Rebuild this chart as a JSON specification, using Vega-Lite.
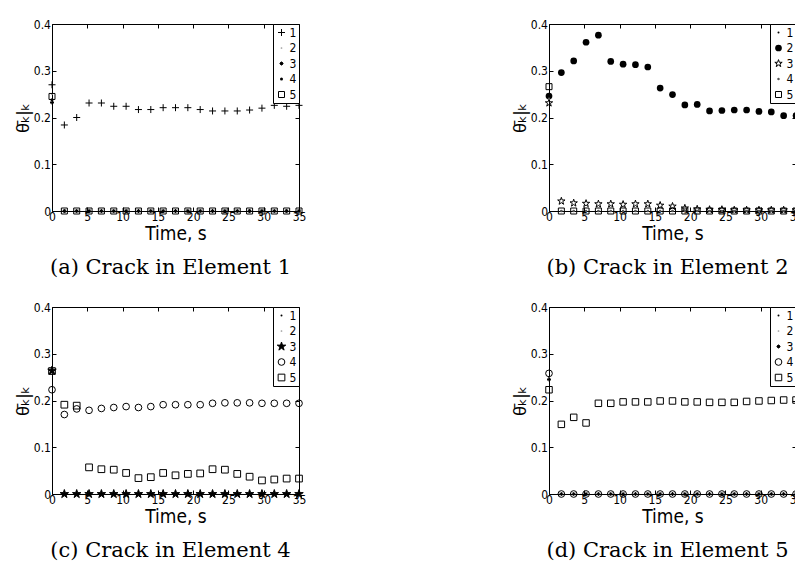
{
"$schema": "https://vega.github.io/schema/vega-lite/v6.json",
"background": "white",
"padding": {"left": 13, "top": 17, "right": 0, "bottom": 0},
"columns": 2,
"spacing": {"row": 96, "column": 250},
"bounds": "flush",
"resolve": {"scale": {"shape": "independent", "size": "independent", "fill": "independent", "stroke": "independent"}, "legend": {"shape": "independent", "size": "independent", "fill": "independent", "stroke": "independent"}},
"datasets": {
"a": [
{"t":0,"s":"1","v":0.27},{"t":1.75,"s":"1","v":0.184},{"t":3.5,"s":"1","v":0.2},{"t":5.25,"s":"1","v":0.231},{"t":7,"s":"1","v":0.231},{"t":8.75,"s":"1","v":0.224},{"t":10.5,"s":"1","v":0.224},{"t":12.25,"s":"1","v":0.217},{"t":14,"s":"1","v":0.217},{"t":15.75,"s":"1","v":0.221},{"t":17.5,"s":"1","v":0.221},{"t":19.25,"s":"1","v":0.221},{"t":21,"s":"1","v":0.217},{"t":22.75,"s":"1","v":0.214},{"t":24.5,"s":"1","v":0.214},{"t":26.25,"s":"1","v":0.214},{"t":28,"s":"1","v":0.216},{"t":29.75,"s":"1","v":0.22},{"t":31.5,"s":"1","v":0.226},{"t":33.25,"s":"1","v":0.224},{"t":35,"s":"1","v":0.226},
{"t":0,"s":"2","v":0.25},{"t":1.75,"s":"2","v":0},{"t":3.5,"s":"2","v":0},{"t":5.25,"s":"2","v":0},{"t":7,"s":"2","v":0},{"t":8.75,"s":"2","v":0},{"t":10.5,"s":"2","v":0},{"t":12.25,"s":"2","v":0},{"t":14,"s":"2","v":0},{"t":15.75,"s":"2","v":0},{"t":17.5,"s":"2","v":0},{"t":19.25,"s":"2","v":0},{"t":21,"s":"2","v":0},{"t":22.75,"s":"2","v":0},{"t":24.5,"s":"2","v":0},{"t":26.25,"s":"2","v":0},{"t":28,"s":"2","v":0},{"t":29.75,"s":"2","v":0},{"t":31.5,"s":"2","v":0},{"t":33.25,"s":"2","v":0},{"t":35,"s":"2","v":0},
{"t":0,"s":"3","v":0.232},{"t":1.75,"s":"3","v":0},{"t":3.5,"s":"3","v":0},{"t":5.25,"s":"3","v":0},{"t":7,"s":"3","v":0},{"t":8.75,"s":"3","v":0},{"t":10.5,"s":"3","v":0},{"t":12.25,"s":"3","v":0},{"t":14,"s":"3","v":0},{"t":15.75,"s":"3","v":0},{"t":17.5,"s":"3","v":0},{"t":19.25,"s":"3","v":0},{"t":21,"s":"3","v":0},{"t":22.75,"s":"3","v":0},{"t":24.5,"s":"3","v":0},{"t":26.25,"s":"3","v":0},{"t":28,"s":"3","v":0},{"t":29.75,"s":"3","v":0},{"t":31.5,"s":"3","v":0},{"t":33.25,"s":"3","v":0},{"t":35,"s":"3","v":0},
{"t":0,"s":"4","v":0.238},{"t":1.75,"s":"4","v":0},{"t":3.5,"s":"4","v":0},{"t":5.25,"s":"4","v":0},{"t":7,"s":"4","v":0},{"t":8.75,"s":"4","v":0},{"t":10.5,"s":"4","v":0},{"t":12.25,"s":"4","v":0},{"t":14,"s":"4","v":0},{"t":15.75,"s":"4","v":0},{"t":17.5,"s":"4","v":0},{"t":19.25,"s":"4","v":0},{"t":21,"s":"4","v":0},{"t":22.75,"s":"4","v":0},{"t":24.5,"s":"4","v":0},{"t":26.25,"s":"4","v":0},{"t":28,"s":"4","v":0},{"t":29.75,"s":"4","v":0},{"t":31.5,"s":"4","v":0},{"t":33.25,"s":"4","v":0},{"t":35,"s":"4","v":0},
{"t":0,"s":"5","v":0.245},{"t":1.75,"s":"5","v":0},{"t":3.5,"s":"5","v":0},{"t":5.25,"s":"5","v":0},{"t":7,"s":"5","v":0},{"t":8.75,"s":"5","v":0},{"t":10.5,"s":"5","v":0},{"t":12.25,"s":"5","v":0},{"t":14,"s":"5","v":0},{"t":15.75,"s":"5","v":0},{"t":17.5,"s":"5","v":0},{"t":19.25,"s":"5","v":0},{"t":21,"s":"5","v":0},{"t":22.75,"s":"5","v":0},{"t":24.5,"s":"5","v":0},{"t":26.25,"s":"5","v":0},{"t":28,"s":"5","v":0},{"t":29.75,"s":"5","v":0},{"t":31.5,"s":"5","v":0},{"t":33.25,"s":"5","v":0},{"t":35,"s":"5","v":0}
],
"b": [
{"t":0,"s":"1","v":0.25},{"t":1.75,"s":"1","v":0},{"t":3.5,"s":"1","v":0},{"t":5.25,"s":"1","v":0},{"t":7,"s":"1","v":0},{"t":8.75,"s":"1","v":0},{"t":10.5,"s":"1","v":0},{"t":12.25,"s":"1","v":0},{"t":14,"s":"1","v":0},{"t":15.75,"s":"1","v":0},{"t":17.5,"s":"1","v":0},{"t":19.25,"s":"1","v":0},{"t":21,"s":"1","v":0},{"t":22.75,"s":"1","v":0},{"t":24.5,"s":"1","v":0},{"t":26.25,"s":"1","v":0},{"t":28,"s":"1","v":0},{"t":29.75,"s":"1","v":0},{"t":31.5,"s":"1","v":0},{"t":33.25,"s":"1","v":0},{"t":35,"s":"1","v":0},
{"t":0,"s":"2","v":0.246},{"t":1.75,"s":"2","v":0.296},{"t":3.5,"s":"2","v":0.321},{"t":5.25,"s":"2","v":0.361},{"t":7,"s":"2","v":0.376},{"t":8.75,"s":"2","v":0.32},{"t":10.5,"s":"2","v":0.314},{"t":12.25,"s":"2","v":0.313},{"t":14,"s":"2","v":0.308},{"t":15.75,"s":"2","v":0.263},{"t":17.5,"s":"2","v":0.249},{"t":19.25,"s":"2","v":0.227},{"t":21,"s":"2","v":0.228},{"t":22.75,"s":"2","v":0.214},{"t":24.5,"s":"2","v":0.215},{"t":26.25,"s":"2","v":0.216},{"t":28,"s":"2","v":0.216},{"t":29.75,"s":"2","v":0.213},{"t":31.5,"s":"2","v":0.212},{"t":33.25,"s":"2","v":0.204},{"t":35,"s":"2","v":0.204},
{"t":0,"s":"3","v":0.231},{"t":1.75,"s":"3","v":0.021},{"t":3.5,"s":"3","v":0.017},{"t":5.25,"s":"3","v":0.016},{"t":7,"s":"3","v":0.015},{"t":8.75,"s":"3","v":0.015},{"t":10.5,"s":"3","v":0.014},{"t":12.25,"s":"3","v":0.015},{"t":14,"s":"3","v":0.015},{"t":15.75,"s":"3","v":0.012},{"t":17.5,"s":"3","v":0.01},{"t":19.25,"s":"3","v":0.006},{"t":21,"s":"3","v":0.004},{"t":22.75,"s":"3","v":0.003},{"t":24.5,"s":"3","v":0.003},{"t":26.25,"s":"3","v":0.002},{"t":28,"s":"3","v":0.002},{"t":29.75,"s":"3","v":0.002},{"t":31.5,"s":"3","v":0.002},{"t":33.25,"s":"3","v":0.002},{"t":35,"s":"3","v":0.002},
{"t":0,"s":"4","v":0.24},{"t":1.75,"s":"4","v":0},{"t":3.5,"s":"4","v":0},{"t":5.25,"s":"4","v":0},{"t":7,"s":"4","v":0},{"t":8.75,"s":"4","v":0},{"t":10.5,"s":"4","v":0},{"t":12.25,"s":"4","v":0},{"t":14,"s":"4","v":0},{"t":15.75,"s":"4","v":0},{"t":17.5,"s":"4","v":0},{"t":19.25,"s":"4","v":0},{"t":21,"s":"4","v":0},{"t":22.75,"s":"4","v":0},{"t":24.5,"s":"4","v":0},{"t":26.25,"s":"4","v":0},{"t":28,"s":"4","v":0},{"t":29.75,"s":"4","v":0},{"t":31.5,"s":"4","v":0},{"t":33.25,"s":"4","v":0},{"t":35,"s":"4","v":0},
{"t":0,"s":"5","v":0.266},{"t":1.75,"s":"5","v":0},{"t":3.5,"s":"5","v":0},{"t":5.25,"s":"5","v":0},{"t":7,"s":"5","v":0},{"t":8.75,"s":"5","v":0},{"t":10.5,"s":"5","v":0},{"t":12.25,"s":"5","v":0},{"t":14,"s":"5","v":0},{"t":15.75,"s":"5","v":0},{"t":17.5,"s":"5","v":0},{"t":19.25,"s":"5","v":0},{"t":21,"s":"5","v":0},{"t":22.75,"s":"5","v":0},{"t":24.5,"s":"5","v":0},{"t":26.25,"s":"5","v":0},{"t":28,"s":"5","v":0},{"t":29.75,"s":"5","v":0},{"t":31.5,"s":"5","v":0},{"t":33.25,"s":"5","v":0},{"t":35,"s":"5","v":0}
],
"c": [
{"t":0,"s":"1","v":0.26},{"t":1.75,"s":"1","v":0},{"t":3.5,"s":"1","v":0},{"t":5.25,"s":"1","v":0},{"t":7,"s":"1","v":0},{"t":8.75,"s":"1","v":0},{"t":10.5,"s":"1","v":0},{"t":12.25,"s":"1","v":0},{"t":14,"s":"1","v":0},{"t":15.75,"s":"1","v":0},{"t":17.5,"s":"1","v":0},{"t":19.25,"s":"1","v":0},{"t":21,"s":"1","v":0},{"t":22.75,"s":"1","v":0},{"t":24.5,"s":"1","v":0},{"t":26.25,"s":"1","v":0},{"t":28,"s":"1","v":0},{"t":29.75,"s":"1","v":0},{"t":31.5,"s":"1","v":0},{"t":33.25,"s":"1","v":0},{"t":35,"s":"1","v":0},
{"t":0,"s":"2","v":0.26},{"t":1.75,"s":"2","v":0},{"t":3.5,"s":"2","v":0},{"t":5.25,"s":"2","v":0},{"t":7,"s":"2","v":0},{"t":8.75,"s":"2","v":0},{"t":10.5,"s":"2","v":0},{"t":12.25,"s":"2","v":0},{"t":14,"s":"2","v":0},{"t":15.75,"s":"2","v":0},{"t":17.5,"s":"2","v":0},{"t":19.25,"s":"2","v":0},{"t":21,"s":"2","v":0},{"t":22.75,"s":"2","v":0},{"t":24.5,"s":"2","v":0},{"t":26.25,"s":"2","v":0},{"t":28,"s":"2","v":0},{"t":29.75,"s":"2","v":0},{"t":31.5,"s":"2","v":0},{"t":33.25,"s":"2","v":0},{"t":35,"s":"2","v":0},
{"t":0,"s":"3","v":0.264},{"t":1.75,"s":"3","v":0},{"t":3.5,"s":"3","v":0},{"t":5.25,"s":"3","v":0},{"t":7,"s":"3","v":0},{"t":8.75,"s":"3","v":0},{"t":10.5,"s":"3","v":0},{"t":12.25,"s":"3","v":0},{"t":14,"s":"3","v":0},{"t":15.75,"s":"3","v":0},{"t":17.5,"s":"3","v":0},{"t":19.25,"s":"3","v":0},{"t":21,"s":"3","v":0},{"t":22.75,"s":"3","v":0},{"t":24.5,"s":"3","v":0},{"t":26.25,"s":"3","v":0},{"t":28,"s":"3","v":0},{"t":29.75,"s":"3","v":0},{"t":31.5,"s":"3","v":0},{"t":33.25,"s":"3","v":0},{"t":35,"s":"3","v":0},
{"t":0,"s":"4","v":0.223},{"t":1.75,"s":"4","v":0.17},{"t":3.5,"s":"4","v":0.182},{"t":5.25,"s":"4","v":0.179},{"t":7,"s":"4","v":0.183},{"t":8.75,"s":"4","v":0.185},{"t":10.5,"s":"4","v":0.187},{"t":12.25,"s":"4","v":0.185},{"t":14,"s":"4","v":0.187},{"t":15.75,"s":"4","v":0.191},{"t":17.5,"s":"4","v":0.191},{"t":19.25,"s":"4","v":0.191},{"t":21,"s":"4","v":0.191},{"t":22.75,"s":"4","v":0.194},{"t":24.5,"s":"4","v":0.195},{"t":26.25,"s":"4","v":0.195},{"t":28,"s":"4","v":0.195},{"t":29.75,"s":"4","v":0.194},{"t":31.5,"s":"4","v":0.194},{"t":33.25,"s":"4","v":0.194},{"t":35,"s":"4","v":0.194},
{"t":0,"s":"5","v":0.263},{"t":1.75,"s":"5","v":0.191},{"t":3.5,"s":"5","v":0.189},{"t":5.25,"s":"5","v":0.057},{"t":7,"s":"5","v":0.053},{"t":8.75,"s":"5","v":0.052},{"t":10.5,"s":"5","v":0.045},{"t":12.25,"s":"5","v":0.034},{"t":14,"s":"5","v":0.036},{"t":15.75,"s":"5","v":0.045},{"t":17.5,"s":"5","v":0.04},{"t":19.25,"s":"5","v":0.043},{"t":21,"s":"5","v":0.044},{"t":22.75,"s":"5","v":0.053},{"t":24.5,"s":"5","v":0.052},{"t":26.25,"s":"5","v":0.043},{"t":28,"s":"5","v":0.037},{"t":29.75,"s":"5","v":0.029},{"t":31.5,"s":"5","v":0.031},{"t":33.25,"s":"5","v":0.033},{"t":35,"s":"5","v":0.033}
],
"d": [
{"t":0,"s":"1","v":0.25},{"t":1.75,"s":"1","v":0},{"t":3.5,"s":"1","v":0},{"t":5.25,"s":"1","v":0},{"t":7,"s":"1","v":0},{"t":8.75,"s":"1","v":0},{"t":10.5,"s":"1","v":0},{"t":12.25,"s":"1","v":0},{"t":14,"s":"1","v":0},{"t":15.75,"s":"1","v":0},{"t":17.5,"s":"1","v":0},{"t":19.25,"s":"1","v":0},{"t":21,"s":"1","v":0},{"t":22.75,"s":"1","v":0},{"t":24.5,"s":"1","v":0},{"t":26.25,"s":"1","v":0},{"t":28,"s":"1","v":0},{"t":29.75,"s":"1","v":0},{"t":31.5,"s":"1","v":0},{"t":33.25,"s":"1","v":0},{"t":35,"s":"1","v":0},
{"t":0,"s":"2","v":0.25},{"t":1.75,"s":"2","v":0},{"t":3.5,"s":"2","v":0},{"t":5.25,"s":"2","v":0},{"t":7,"s":"2","v":0},{"t":8.75,"s":"2","v":0},{"t":10.5,"s":"2","v":0},{"t":12.25,"s":"2","v":0},{"t":14,"s":"2","v":0},{"t":15.75,"s":"2","v":0},{"t":17.5,"s":"2","v":0},{"t":19.25,"s":"2","v":0},{"t":21,"s":"2","v":0},{"t":22.75,"s":"2","v":0},{"t":24.5,"s":"2","v":0},{"t":26.25,"s":"2","v":0},{"t":28,"s":"2","v":0},{"t":29.75,"s":"2","v":0},{"t":31.5,"s":"2","v":0},{"t":33.25,"s":"2","v":0},{"t":35,"s":"2","v":0},
{"t":0,"s":"3","v":0.245},{"t":1.75,"s":"3","v":0},{"t":3.5,"s":"3","v":0},{"t":5.25,"s":"3","v":0},{"t":7,"s":"3","v":0},{"t":8.75,"s":"3","v":0},{"t":10.5,"s":"3","v":0},{"t":12.25,"s":"3","v":0},{"t":14,"s":"3","v":0},{"t":15.75,"s":"3","v":0},{"t":17.5,"s":"3","v":0},{"t":19.25,"s":"3","v":0},{"t":21,"s":"3","v":0},{"t":22.75,"s":"3","v":0},{"t":24.5,"s":"3","v":0},{"t":26.25,"s":"3","v":0},{"t":28,"s":"3","v":0},{"t":29.75,"s":"3","v":0},{"t":31.5,"s":"3","v":0},{"t":33.25,"s":"3","v":0},{"t":35,"s":"3","v":0},
{"t":0,"s":"4","v":0.258},{"t":1.75,"s":"4","v":0},{"t":3.5,"s":"4","v":0},{"t":5.25,"s":"4","v":0},{"t":7,"s":"4","v":0},{"t":8.75,"s":"4","v":0},{"t":10.5,"s":"4","v":0},{"t":12.25,"s":"4","v":0},{"t":14,"s":"4","v":0},{"t":15.75,"s":"4","v":0},{"t":17.5,"s":"4","v":0},{"t":19.25,"s":"4","v":0},{"t":21,"s":"4","v":0},{"t":22.75,"s":"4","v":0},{"t":24.5,"s":"4","v":0},{"t":26.25,"s":"4","v":0},{"t":28,"s":"4","v":0},{"t":29.75,"s":"4","v":0},{"t":31.5,"s":"4","v":0},{"t":33.25,"s":"4","v":0},{"t":35,"s":"4","v":0},
{"t":0,"s":"5","v":0.223},{"t":1.75,"s":"5","v":0.149},{"t":3.5,"s":"5","v":0.164},{"t":5.25,"s":"5","v":0.152},{"t":7,"s":"5","v":0.194},{"t":8.75,"s":"5","v":0.194},{"t":10.5,"s":"5","v":0.197},{"t":12.25,"s":"5","v":0.197},{"t":14,"s":"5","v":0.197},{"t":15.75,"s":"5","v":0.199},{"t":17.5,"s":"5","v":0.199},{"t":19.25,"s":"5","v":0.197},{"t":21,"s":"5","v":0.197},{"t":22.75,"s":"5","v":0.196},{"t":24.5,"s":"5","v":0.196},{"t":26.25,"s":"5","v":0.196},{"t":28,"s":"5","v":0.198},{"t":29.75,"s":"5","v":0.199},{"t":31.5,"s":"5","v":0.2},{"t":33.25,"s":"5","v":0.201},{"t":35,"s":"5","v":0.201}
]
},
"concat": [
{
"width": 247, "height": 187,
"data": {"name": "a"},
"title": {"text": "(a) Crack in Element 1", "dx": -5},
"layer": [
{"mark": {"type": "point", "strokeWidth": 1, "opacity": 1},
"encoding": {
"x": {"field": "t", "type": "quantitative", "scale": {"domain": [0, 35], "nice": false}, "axis": {"values": [0,5,10,15,20,25,30,35], "title": "Time, s"}},
"y": {"field": "v", "type": "quantitative", "scale": {"domain": [0, 0.4], "nice": false}, "axis": {"values": [0,0.1,0.2,0.3,0.4], "format": "~g", "title": "θ̄ₖ|ₖ"}},
"shape": {"field": "s", "type": "nominal", "title": null, "scale": {"domain": ["1","2","3","4","5"], "range": ["M-1,0L1,0M0,-1L0,1", "circle", "M-1,0L1,0M0,-1L0,1M-0.7,-0.7L0.7,0.7M-0.7,0.7L0.7,-0.7", "circle", "square"]}},
"size": {"field": "s", "type": "nominal", "title": null, "scale": {"type": "ordinal", "domain": ["1","2","3","4","5"], "range": [49, 3, 16, 9, 36]}},
"fill": {"field": "s", "type": "nominal", "title": null, "scale": {"domain": ["1","2","3","4","5"], "range": ["transparent", "#999999", "transparent", "black", "transparent"]}},
"stroke": {"field": "s", "type": "nominal", "title": null, "scale": {"domain": ["1","2","3","4","5"], "range": ["black", "transparent", "black", "transparent", "black"]}}
}},
{"mark": {"type": "point", "opacity": 0},
"encoding": {
"x": {"field": "t", "type": "quantitative", "axis": {"orient": "top", "labels": false, "title": null, "values": [0,5,10,15,20,25,30,35]}},
"y": {"field": "v", "type": "quantitative", "axis": {"orient": "right", "labels": false, "title": null, "values": [0,0.1,0.2,0.3,0.4]}}
}}
],
"resolve": {"axis": {"x": "independent", "y": "independent"}}
},
{
"width": 247, "height": 187,
"data": {"name": "b"},
"title": {"text": "(b) Crack in Element 2", "dx": -5},
"layer": [
{"mark": {"type": "point", "strokeWidth": 1, "opacity": 1},
"encoding": {
"x": {"field": "t", "type": "quantitative", "scale": {"domain": [0, 35], "nice": false}, "axis": {"values": [0,5,10,15,20,25,30,35], "title": "Time, s"}},
"y": {"field": "v", "type": "quantitative", "scale": {"domain": [0, 0.4], "nice": false}, "axis": {"values": [0,0.1,0.2,0.3,0.4], "format": "~g", "title": "θ̄ₖ|ₖ"}},
"shape": {"field": "s", "type": "nominal", "title": null, "scale": {"domain": ["1","2","3","4","5"], "range": ["circle", "circle", "M0,-1L0.225,-0.309L0.951,-0.309L0.363,0.118L0.588,0.809L0,0.382L-0.588,0.809L-0.363,0.118L-0.951,-0.309L-0.225,-0.309Z", "circle", "square"]}},
"size": {"field": "s", "type": "nominal", "title": null, "scale": {"type": "ordinal", "domain": ["1","2","3","4","5"], "range": [4, 45, 60, 6, 36]}},
"fill": {"field": "s", "type": "nominal", "title": null, "scale": {"domain": ["1","2","3","4","5"], "range": ["black", "black", "transparent", "#555555", "transparent"]}},
"stroke": {"field": "s", "type": "nominal", "title": null, "scale": {"domain": ["1","2","3","4","5"], "range": ["transparent", "transparent", "black", "transparent", "black"]}}
}},
{"mark": {"type": "point", "opacity": 0},
"encoding": {
"x": {"field": "t", "type": "quantitative", "axis": {"orient": "top", "labels": false, "title": null, "values": [0,5,10,15,20,25,30,35]}},
"y": {"field": "v", "type": "quantitative", "axis": {"orient": "right", "labels": false, "title": null, "values": [0,0.1,0.2,0.3,0.4]}}
}}
],
"resolve": {"axis": {"x": "independent", "y": "independent"}}
},
{
"width": 247, "height": 187,
"data": {"name": "c"},
"title": {"text": "(c) Crack in Element 4", "dx": -5},
"layer": [
{"mark": {"type": "point", "strokeWidth": 1, "opacity": 1},
"encoding": {
"x": {"field": "t", "type": "quantitative", "scale": {"domain": [0, 35], "nice": false}, "axis": {"values": [0,5,10,15,20,25,30,35], "title": "Time, s"}},
"y": {"field": "v", "type": "quantitative", "scale": {"domain": [0, 0.4], "nice": false}, "axis": {"values": [0,0.1,0.2,0.3,0.4], "format": "~g", "title": "θ̄ₖ|ₖ"}},
"shape": {"field": "s", "type": "nominal", "title": null, "scale": {"domain": ["1","2","3","4","5"], "range": ["circle", "circle", "M0,-1L0.225,-0.309L0.951,-0.309L0.363,0.118L0.588,0.809L0,0.382L-0.588,0.809L-0.363,0.118L-0.951,-0.309L-0.225,-0.309Z", "circle", "square"]}},
"size": {"field": "s", "type": "nominal", "title": null, "scale": {"type": "ordinal", "domain": ["1","2","3","4","5"], "range": [4, 3, 80, 45, 45]}},
"fill": {"field": "s", "type": "nominal", "title": null, "scale": {"domain": ["1","2","3","4","5"], "range": ["black", "#999999", "black", "transparent", "transparent"]}},
"stroke": {"field": "s", "type": "nominal", "title": null, "scale": {"domain": ["1","2","3","4","5"], "range": ["transparent", "transparent", "black", "black", "black"]}}
}},
{"mark": {"type": "point", "opacity": 0},
"encoding": {
"x": {"field": "t", "type": "quantitative", "axis": {"orient": "top", "labels": false, "title": null, "values": [0,5,10,15,20,25,30,35]}},
"y": {"field": "v", "type": "quantitative", "axis": {"orient": "right", "labels": false, "title": null, "values": [0,0.1,0.2,0.3,0.4]}}
}}
],
"resolve": {"axis": {"x": "independent", "y": "independent"}}
},
{
"width": 247, "height": 187,
"data": {"name": "d"},
"title": {"text": "(d) Crack in Element 5", "dx": -5},
"layer": [
{"mark": {"type": "point", "strokeWidth": 1, "opacity": 1},
"encoding": {
"x": {"field": "t", "type": "quantitative", "scale": {"domain": [0, 35], "nice": false}, "axis": {"values": [0,5,10,15,20,25,30,35], "title": "Time, s"}},
"y": {"field": "v", "type": "quantitative", "scale": {"domain": [0, 0.4], "nice": false}, "axis": {"values": [0,0.1,0.2,0.3,0.4], "format": "~g", "title": "θ̄ₖ|ₖ"}},
"shape": {"field": "s", "type": "nominal", "title": null, "scale": {"domain": ["1","2","3","4","5"], "range": ["circle", "circle", "M-1,0L1,0M0,-1L0,1M-0.7,-0.7L0.7,0.7M-0.7,0.7L0.7,-0.7", "circle", "square"]}},
"size": {"field": "s", "type": "nominal", "title": null, "scale": {"type": "ordinal", "domain": ["1","2","3","4","5"], "range": [4, 3, 16, 45, 42]}},
"fill": {"field": "s", "type": "nominal", "title": null, "scale": {"domain": ["1","2","3","4","5"], "range": ["black", "#999999", "transparent", "transparent", "transparent"]}},
"stroke": {"field": "s", "type": "nominal", "title": null, "scale": {"domain": ["1","2","3","4","5"], "range": ["transparent", "transparent", "black", "black", "black"]}}
}},
{"mark": {"type": "point", "opacity": 0},
"encoding": {
"x": {"field": "t", "type": "quantitative", "axis": {"orient": "top", "labels": false, "title": null, "values": [0,5,10,15,20,25,30,35]}},
"y": {"field": "v", "type": "quantitative", "axis": {"orient": "right", "labels": false, "title": null, "values": [0,0.1,0.2,0.3,0.4]}}
}}
],
"resolve": {"axis": {"x": "independent", "y": "independent"}}
}
],
"config": {
"view": {"stroke": "black", "strokeWidth": 1},
"axis": {"grid": false, "domain": false, "tickSize": -4, "tickColor": "black", "tickWidth": 1, "labelColor": "black", "labelFont": "Liberation Sans Narrow, DejaVu Sans Condensed, Liberation Sans, sans-serif", "labelFontSize": 12, "labelFlush": false, "labelOverlap": false, "titleFont": "Liberation Sans Narrow, DejaVu Sans Condensed, Liberation Sans, sans-serif", "titleFontWeight": "normal", "titleColor": "black"},
"axisX": {"labelPadding": 4.5, "titleFontSize": 19, "titlePadding": 2},
"axisY": {"labelPadding": 5.5, "titleFontSize": 18, "titlePadding": 1, "titleFont": "Liberation Sans, DejaVu Sans, sans-serif"},
"legend": {"orient": "top-right", "offset": 0, "strokeColor": "black", "fillColor": "white", "padding": 2.5, "labelFont": "Liberation Sans Narrow, DejaVu Sans Condensed, Liberation Sans, sans-serif", "labelFontSize": 12, "labelColor": "black", "labelOffset": 2, "rowPadding": 3.5, "clipHeight": 12, "symbolStrokeWidth": 1, "cornerRadius": 0},
"title": {"orient": "bottom", "frame": "group", "anchor": "middle", "font": "DejaVu Serif", "fontSize": 21, "fontWeight": "normal", "color": "black", "offset": 13}
}
}
